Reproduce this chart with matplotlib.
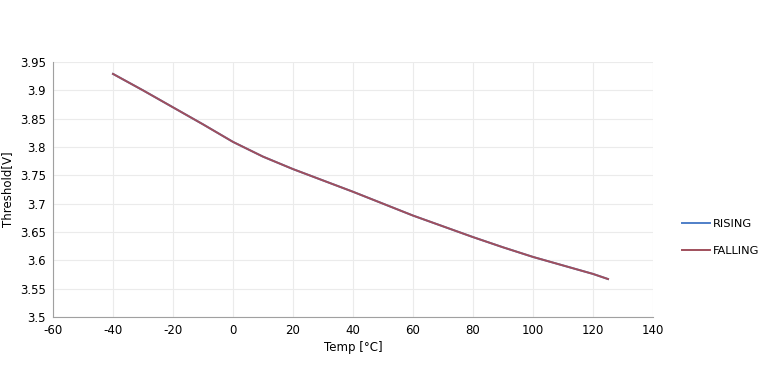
import matplotlib
matplotlib.use("Agg")
import matplotlib.pyplot as plt

temp = [-40, -30, -20, -10, 0, 10, 20, 30, 40, 50, 60, 70, 80, 90, 100, 110, 120, 125]
rising = [3.929, 3.900, 3.870, 3.840, 3.809, 3.783, 3.761, 3.741, 3.721, 3.700,
          3.679, 3.660, 3.641, 3.623, 3.606, 3.591, 3.576, 3.567]
falling = [3.929, 3.900, 3.870, 3.840, 3.809, 3.783, 3.761, 3.741, 3.721, 3.700,
           3.679, 3.660, 3.641, 3.623, 3.606, 3.591, 3.576, 3.567]
xticks = [-60, -40, -20, 0, 20, 40, 60, 80, 100, 120, 140]
yticks = [3.5, 3.55, 3.6, 3.65, 3.7, 3.75, 3.8, 3.85, 3.9, 3.95]

plt.rcParams['font.family'] = ['DejaVu Sans']
W, H = 769, 376
fig = plt.figure(figsize=(W/100, H/100), dpi=100)
ax = fig.add_axes([53/W, 1-317/H, 600/W, 255/H])

ax.plot(temp, rising, color='#4f7fc8', lw=1.4, label='RISING')
ax.plot(temp, falling, color='#a04f5c', lw=1.4, label='FALLING')

ax.set_xlim(-60, 140)
ax.set_ylim(3.5, 3.95)
ax.set_xticks(xticks)
ax.set_xticklabels([str(v) for v in xticks])
ax.set_yticks(yticks)
ax.set_yticklabels([f"{v:g}" for v in yticks])
ax.tick_params(length=0, labelsize=8.5, colors='black', pad=5)
ax.grid(True, color='#ebebeb', lw=0.8)
for s in ['top', 'right']:
    ax.spines[s].set_visible(False)
for s in ['left', 'bottom']:
    ax.spines[s].set_color('#a0a0a0')
ax.set_xlabel('Temp [°C]', fontsize=8.5, labelpad=3)
ax.set_ylabel('Threshold[V]', fontsize=8.5, labelpad=4)

leg = fig.legend(loc='upper left', bbox_to_anchor=(672/W, 1-209/H), frameon=False,
                 fontsize=8.2, handlelength=2.4, labelspacing=1.45, handletextpad=0.3)

fig.savefig('out.png', dpi=100)
